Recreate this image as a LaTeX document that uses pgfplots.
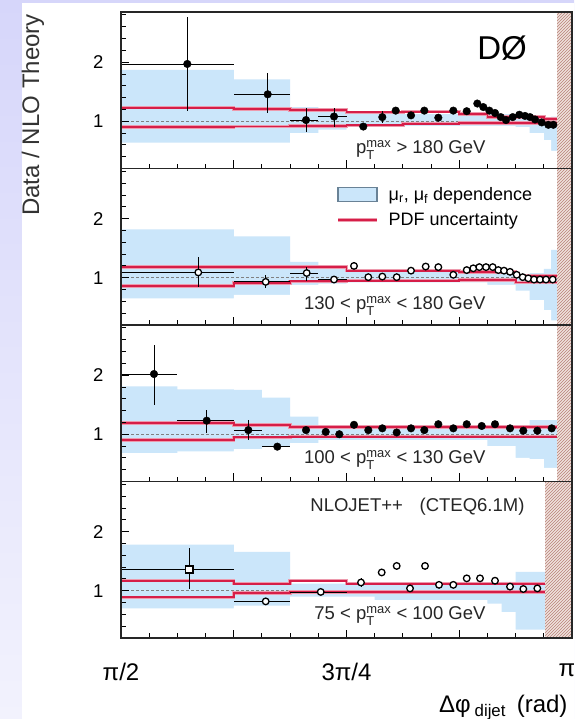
\documentclass[border=0pt]{standalone}
\usepackage{amsmath}
\usepackage{fontspec}
\setmainfont{Liberation Sans}
\usepackage{pgfplots}
\usepackage{pgfplotstable}
\pgfplotsset{compat=1.18}
\usetikzlibrary{patterns}

\definecolor{bandblue}{RGB}{203,230,250}
\definecolor{bandedge}{RGB}{105,130,150}
\definecolor{pdfred}{RGB}{214,30,72}
\definecolor{hatchbg}{RGB}{240,226,222}
\definecolor{hatchln}{RGB}{185,130,120}
\definecolor{lavtop}{RGB}{214,214,250}
\definecolor{lavbot}{RGB}{242,242,253}

% ---------- measured ratios (x in rad, asymmetric errors) ----------
\pgfplotstableread{
x      y     xm     xp     ym    yp
1.8017 1.97  0.2309 0.1618 0.79  0.80
2.0818 1.456 0.1183 0.0780 0.31  0.36
2.2152 1.02  0.0554 0.0428 0.21  0.21
2.3127 1.08  0.0547 0.0435 0.17  0.14
2.4147 0.91  0      0      0.06  0.06
2.4809 1.07  0      0      0.10  0.10
2.5276 1.18  0      0      0.06  0.06
2.5809 1.10  0      0      0.05  0.05
2.6272 1.18  0      0      0.04  0.04
2.6760 1.06  0      0      0.04  0.04
2.7282 1.18  0      0      0.04  0.04
2.7749 1.17  0      0      0.03  0.03
2.8118 1.30  0      0      0.03  0.03
2.8327 1.24  0      0      0.03  0.03
2.8536 1.18  0      0      0.03  0.03
2.8734 1.14  0      0      0.03  0.03
2.8933 1.07  0      0      0.03  0.03
2.9117 1.02  0      0      0.03  0.03
2.9351 1.07  0      0      0.03  0.03
2.9581 1.11  0      0      0.03  0.03
2.9779 1.09  0      0      0.03  0.03
2.9954 1.07  0      0      0.03  0.03
3.0128 1.03  0      0      0.03  0.03
3.0361 0.98  0      0      0.03  0.03
3.0591 0.94  0      0      0.03  0.03
3.0766 0.94  0      0      0.03  0.03
}\dataA

\pgfplotstableread{
x      y     xm     xp     ym    yp
1.8400 1.09  0.2692 0.1235 0.25  0.26
2.0748 0.93  0.1113 0.0850 0.11  0.12
2.2176 1.08  0.0578 0.0404 0.14  0.11
2.3127 0.97  0.0547 0.0435 0.05  0.05
2.3823 1.20  0      0      0.04  0.04
2.4321 1.01  0      0      0.04  0.04
2.4809 1.02  0      0      0.04  0.04
2.5310 1.01  0      0      0.03  0.03
2.5809 1.12  0      0      0.03  0.03
2.6320 1.19  0      0      0.03  0.03
2.6760 1.18  0      0      0.03  0.03
2.7282 1.05  0      0      0.03  0.03
2.7749 1.13  0      0      0.03  0.03
2.7978 1.16  0      0      0.03  0.03
2.8188 1.18  0      0      0.03  0.03
2.8421 1.18  0      0      0.03  0.03
2.8654 1.18  0      0      0.03  0.03
2.8849 1.13  0      0      0.03  0.03
2.9048 1.12  0      0      0.03  0.03
2.9257 1.10  0      0      0.03  0.03
2.9490 1.05  0      0      0.03  0.03
2.9699 1.01  0      0      0.03  0.03
2.9894 0.99  0      0      0.03  0.03
3.0093 0.97  0      0      0.03  0.03
3.0302 0.97  0      0      0.03  0.03
3.0511 0.97  0      0      0.03  0.03
3.0744 0.97  0      0      0.03  0.03
}\dataB

\pgfplotstableread{
x      y     xm     xp     ym    yp
1.6857 2.02  0.1149 0.0814 0.52  0.49
1.8693 1.23  0.1022 0.0942 0.21  0.18
2.0142 1.07  0.0507 0.0475 0.17  0.17
2.1152 0.79  0.0535 0.0446 0.04  0.04
2.2152 1.07  0      0      0.05  0.05
2.2838 1.04  0      0      0.05  0.05
2.3311 1.00  0      0      0.04  0.04
2.3823 1.16  0      0      0.04  0.04
2.4321 1.07  0      0      0.04  0.04
2.4809 1.10  0      0      0.04  0.04
2.5310 1.03  0      0      0.03  0.03
2.5809 1.10  0      0      0.03  0.03
2.6272 1.07  0      0      0.03  0.03
2.6760 1.17  0      0      0.03  0.03
2.7282 1.10  0      0      0.03  0.03
2.7749 1.17  0      0      0.03  0.03
2.8271 1.14  0      0      0.03  0.03
2.8734 1.17  0      0      0.03  0.03
2.9257 1.10  0      0      0.03  0.03
2.9720 1.06  0      0      0.03  0.03
3.0208 1.06  0      0      0.03  0.03
3.0709 1.10  0      0      0.03  0.03
}\dataC

\pgfplotstableread{
x      y     xm     xp     ym    yp
1.8087 1.36  0.2379 0.1548 0.33  0.36
}\dataDfirst

\pgfplotstableread{
x      y     xm     xp     ym    yp
2.0748 0.82  0.1113 0.0850 0.06  0.06
2.2664 0.98  0.1066 0.0898 0.05  0.05
2.4067 1.14  0      0      0.07  0.07
2.4788 1.31  0      0      0.06  0.06
2.5310 1.42  0      0      0.05  0.05
2.5774 1.04  0      0      0.06  0.06
2.6297 1.42  0      0      0.04  0.04
2.6784 1.10  0      0      0.03  0.03
2.7282 1.10  0      0      0.03  0.03
2.7749 1.21  0      0      0.03  0.03
2.8212 1.21  0      0      0.03  0.03
2.8734 1.17  0      0      0.03  0.03
2.9257 1.07  0      0      0.03  0.03
2.9720 1.03  0      0      0.03  0.03
3.0208 1.04  0      0      0.03  0.03
}\dataD

% ---------- NLO theory bands: scale dependence (blue) and PDF (red) ----------
\pgfplotstableread{
x      up    lo
1.5708 1.87  0.64
1.9635 1.71  0.64
2.1598 1.24  0.80
2.2580 1.20  0.86
2.3562 1.12  0.92
2.9452 1.08  0.90
2.9943 1.06  0.80
3.0434 1.06  0.68
3.0689 1.08  0.50
3.0894 1.08  0.50
}\scaleA
\pgfplotstableread{
x      up    lo
1.5708 1.23  0.90
1.9635 1.21  0.91
2.1598 1.19  0.92
2.3562 1.15  0.93
2.5525 1.16  0.96
2.7489 1.12  0.97
2.8471 1.07  0.97
3.0434 1.04  0.97
3.0894 1.04  0.97
}\pdfA

\pgfplotstableread{
x      up    lo
1.5708 1.82  0.65
1.9635 1.70  0.71
2.1598 1.27  0.88
2.2580 1.15  0.90
2.3562 1.10  0.92
2.8471 1.08  0.88
2.9452 1.06  0.78
2.9943 1.08  0.62
3.0434 1.15  0.45
3.0689 1.47  0.28
3.0894 1.47  0.28
}\scaleB
\pgfplotstableread{
x      up    lo
1.5708 1.18  0.86
1.9635 1.18  0.91
2.1598 1.18  0.94
2.3562 1.12  0.95
2.7489 1.10  0.96
2.9452 1.03  0.92
3.0894 1.03  0.92
}\pdfB

\pgfplotstableread{
x      up    lo
1.5708 1.81  0.68
1.7671 1.76  0.71
1.9635 1.75  0.75
2.0617 1.62  0.78
2.1598 1.30  0.85
2.2580 1.12  0.90
2.8471 1.12  0.80
2.9452 1.15  0.60
2.9943 1.24  0.58
3.0434 1.24  0.43
3.0894 1.24  0.43
}\scaleC
\pgfplotstableread{
x      up    lo
1.5708 1.19  0.90
1.9635 1.16  0.95
2.1598 1.12  0.96
3.0894 1.12  0.96
}\pdfC

\pgfplotstableread{
x      up    lo
1.5708 1.78  0.70
1.9635 1.66  0.75
2.1598 1.12  0.90
2.4544 1.10  0.84
2.8471 1.12  0.78
2.8962 1.15  0.64
2.9452 1.32  0.34
3.0476 1.32  0.34
}\scaleD
\pgfplotstableread{
x      up    lo
1.5708 1.17  0.89
1.9635 1.12  0.96
2.1598 1.17  0.98
2.3562 1.12  0.98
3.0476 1.12  0.98
}\pdfD

\pgfplotsset{
  panel/.style={
    scale only axis, width=451pt, height=156.5pt,
    xmin=1.5708, xmax=3.1416, ymin=0.2, ymax=2.85,
    axis on top,
    axis line style={line width=1.1pt, black!85},
    xtick={1.5708,1.9635,2.3562,2.7489,3.1416},
    minor x tick num=3,
    xticklabels={},
    ytick={1,2},
    minor ytick={0.4,0.6,0.8,1.2,1.4,1.6,1.8,2.2,2.4,2.6,2.8},
    xtick pos=left, ytick pos=left,
    tick align=inside,
    major tick length=8pt, minor tick length=4.5pt,
    every tick/.style={black, line width=0.9pt},
    yticklabel style={font=\fontsize{18.5}{20}\selectfont, xshift=-14pt},
    /pgf/number format/assume math mode=true,
  },
  pt/.style={only marks, black,
    error bars/x dir=both, error bars/x explicit,
    error bars/y dir=both, error bars/y explicit,
    error bars/error mark=none,
    error bars/error bar style={black, line width=0.8pt}},
}

% theory bands: #1 scale table, #2 pdf table
% (blue area under the upper edge, then the white page restored under the lower edge)
\newcommand{\theory}[2]{%
  \addplot[const plot, fill=bandblue, draw=none, forget plot] table[x=x,y=up]{#1} \closedcycle;
  \addplot[const plot, fill=white, draw=none, forget plot] table[x=x,y=lo]{#1} \closedcycle;
  \draw[gray, line width=0.9pt, dash pattern=on 2.5pt off 2.5pt] (axis cs:1.5708,1) -- (axis cs:3.1416,1);
  \addplot[const plot, pdfred!45, line width=3.4pt, forget plot] table[x=x,y=up]{#2};
  \addplot[const plot, pdfred!45, line width=3.4pt, forget plot] table[x=x,y=lo]{#2};
  \addplot[const plot, pdfred, line width=1.8pt, forget plot] table[x=x,y=up]{#2};
  \addplot[const plot, pdfred, line width=1.8pt, forget plot] table[x=x,y=lo]{#2};
}
\newcommand{\excluded}[1]{%
  \fill[hatchbg] (axis cs:#1,0.2) rectangle (axis cs:3.1416,2.85);
  \fill[pattern=north east lines, pattern color=hatchln] (axis cs:#1,0.2) rectangle (axis cs:3.1416,2.85);
}
\newcommand{\pmax}{p$_{\text{T}}^{\text{max}}$}

\begin{document}
\begin{tikzpicture}[x=1pt,y=1pt]
\shade[top color=lavtop, bottom color=lavbot] (0,0) rectangle (574,719);
\fill[white] (22,0) rectangle (574,716);

% pT > 180 GeV
\begin{axis}[panel, at={(121pt,550.5pt)}, anchor=south west]
  \theory{\scaleA}{\pdfA}
  \addplot[pt, mark=*, mark size=3.8pt, forget plot]
    table[x=x, y=y, x error minus=xm, x error plus=xp, y error minus=ym, y error plus=yp]{\dataA};
  \excluded{3.0894}
\end{axis}

% 130 < pT < 180 GeV
\begin{axis}[panel, at={(121pt,394pt)}, anchor=south west,
  legend style={at={(0.477,0.895)}, anchor=north west, draw=none, fill=none,
    font=\fontsize{18}{20}\selectfont, inner sep=0pt, row sep=7pt,
    /tikz/every odd column/.append style={column sep=8pt}},
  legend cell align=left]
  \addlegendimage{legend image code/.code={\draw[fill=bandblue, draw=bandedge, line width=1.1pt] (0pt,-7pt) rectangle (39pt,7pt);}}
  \addlegendentry{μ\textsubscript{r}, μ\textsubscript{f} dependence}
  \addlegendimage{legend image code/.code={\draw[pdfred!45, line width=3.4pt] (0pt,0pt) -- (39pt,0pt); \draw[pdfred, line width=1.8pt] (0pt,0pt) -- (39pt,0pt);}}
  \addlegendentry{PDF uncertainty}
  \theory{\scaleB}{\pdfB}
  \addplot[pt, mark=*, mark size=3.3pt, mark options={fill=white, draw=black, line width=1.3pt}, forget plot]
    table[x=x, y=y, x error minus=xm, x error plus=xp, y error minus=ym, y error plus=yp]{\dataB};
  \excluded{3.0894}
\end{axis}

% 100 < pT < 130 GeV
\begin{axis}[panel, at={(121pt,237.5pt)}, anchor=south west]
  \theory{\scaleC}{\pdfC}
  \addplot[pt, mark=*, mark size=3.8pt, forget plot]
    table[x=x, y=y, x error minus=xm, x error plus=xp, y error minus=ym, y error plus=yp]{\dataC};
  \excluded{3.0894}
\end{axis}

% 75 < pT < 100 GeV
\begin{axis}[panel, at={(121pt,81pt)}, anchor=south west,
  xticklabels={π/2,,3π/4,,\hspace*{-10pt}π},
  xticklabel style={font=\fontsize{24}{26}\selectfont, yshift=-22pt}]
  \theory{\scaleD}{\pdfD}
  \addplot[pt, mark=square*, mark size=3.6pt, mark options={fill=white, draw=black, line width=1.3pt}, forget plot]
    table[x=x, y=y, x error minus=xm, x error plus=xp, y error minus=ym, y error plus=yp]{\dataDfirst};
  \addplot[pt, mark=*, mark size=3.3pt, mark options={fill=white, draw=black, line width=1.3pt}, forget plot]
    table[x=x, y=y, x error minus=xm, x error plus=xp, y error minus=ym, y error plus=yp]{\dataD};
  \excluded{3.0476}
\end{axis}

% labels
\node[rotate=90, font=\fontsize{24}{26}\selectfont, text=black!80] at (33,604) {Data / NLO Theory};
\node[font=\fontsize{33}{36}\selectfont] at (502,671) {DØ};
\begin{scope}[every node/.style={font=\fontsize{18.5}{21}\selectfont, text=black!85}]
  \node[anchor=base east] at (489,565.5) {\pmax{} > 180 GeV};
  \node[anchor=base east] at (489,409.5) {130 < \pmax{} < 180 GeV};
  \node[anchor=base east] at (489,255.5) {100 < \pmax{} < 130 GeV};
  \node[anchor=base east] at (528,207.5) {NLOJET++\hspace{0.9em}(CTEQ6.1M)};
  \node[anchor=base east] at (489,99.5) {75 < \pmax{} < 100 GeV};
\end{scope}
\node[anchor=base east, font=\fontsize{24}{26}\selectfont] at (571,6) {Δφ\,\textsubscript{dijet}\hspace{0.45em}(rad)};
\pgfresetboundingbox
\useasboundingbox (0,0) rectangle (574,719);
\end{tikzpicture}
\end{document}
